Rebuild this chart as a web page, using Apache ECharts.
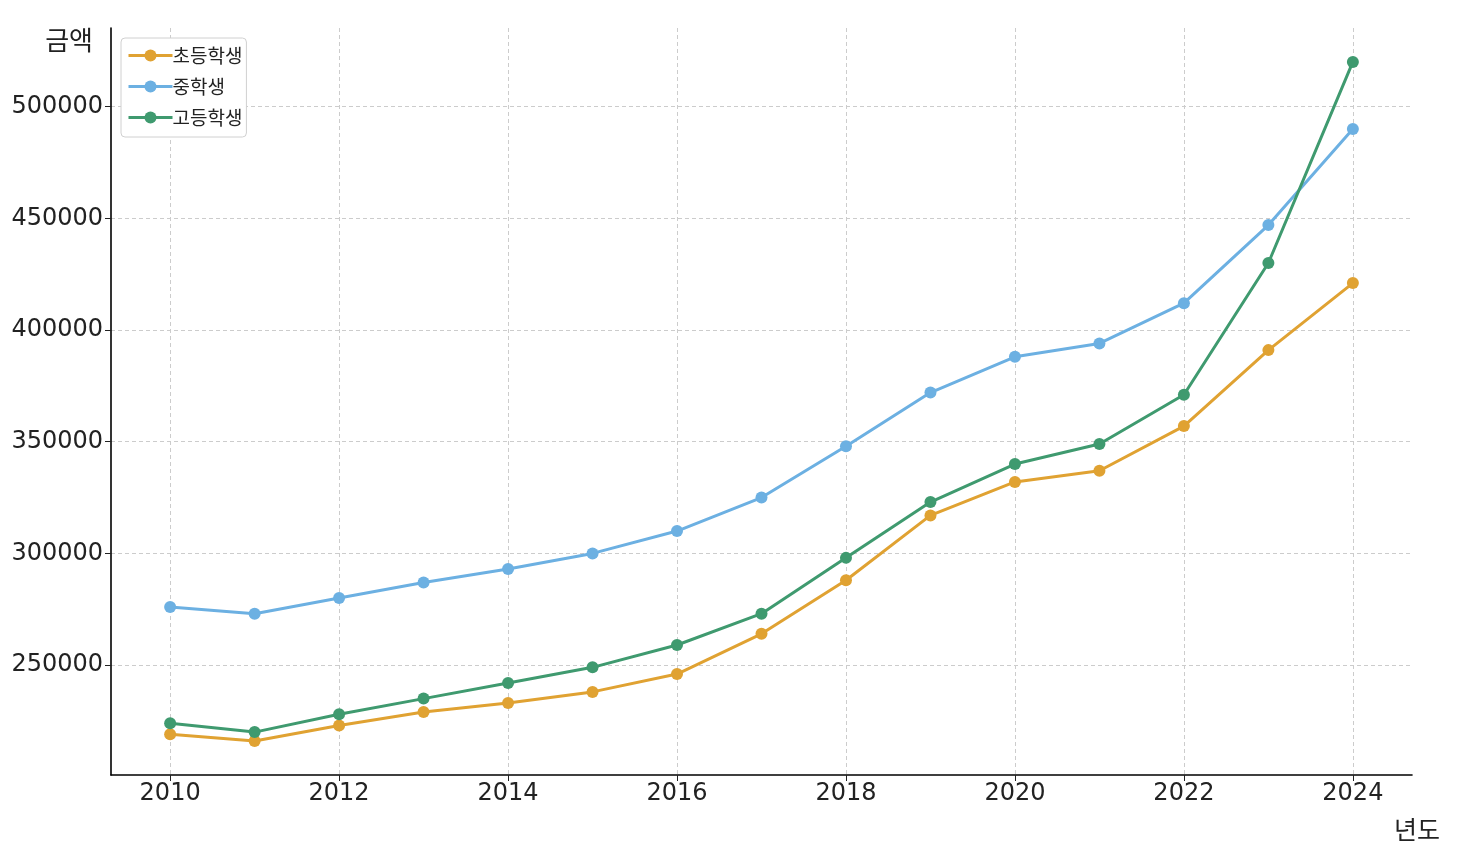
<!DOCTYPE html>
<html>
<head>
<meta charset="utf-8">
<script src="https://cdn.jsdelivr.net/npm/echarts@6/dist/echarts.min.js"></script>
<style>
html,body{margin:0;padding:0;background:#fff;}
#chart{width:1466px;height:862px;}
</style>
</head>
<body>
<div id="chart"></div>
<script>
const years = [2010,2011,2012,2013,2014,2015,2016,2017,2018,2019,2020,2021,2022,2023,2024];
const elementary = [219000,216000,223000,229000,233000,238000,246000,264000,288000,317000,332000,337000,357000,391000,421000];
const middle = [276000,273000,280000,287000,293000,300000,310000,325000,348000,372000,388000,394000,412000,447000,490000];
const high = [224000,220000,228000,235000,242000,249000,259000,273000,298000,323000,340000,349000,371000,430000,520000];
const seriesNames = ['초등학생','중학생','고등학생'];
const xTicks = [2010,2012,2014,2016,2018,2020,2022,2024];
const yTicks = [250000,300000,350000,400000,450000,500000];

const colors = ['#e0a232','#6cb0e2','#3f9a6f'];
const numFont = "'DejaVu Sans',sans-serif";
const krFont = "'Noto Sans CJK KR',sans-serif";
const chart = echarts.init(document.getElementById('chart'));

function mk(name, vals, color){
  return {
    name: name, type: 'line',
    data: years.map((y,i)=>[y, vals[i]]),
    symbol: 'circle', symbolSize: 12,
    lineStyle: {width: 3, color: color},
    itemStyle: {color: color},
    emphasis: {disabled: true},
    animation: false
  };
}

chart.setOption({
  animation: false,
  grid: {left: 111, right: 54, top: 28, bottom: 87, containLabel: false},
  legend: {
    orient: 'vertical', left: 121, top: 38,
    data: seriesNames,
    itemWidth: 44, itemHeight: 15, itemGap: 12,
    padding: [8, 4, 10, 6],
    backgroundColor: '#fff', borderColor: '#d0d0d0', borderWidth: 1, borderRadius: 4,
    lineStyle: {width: 3},
    textStyle: {fontSize: 19, color: '#222', fontFamily: krFont, padding: [0,0,0,-5]}
  },
  xAxis: {
    type: 'value', min: 2009.3, max: 2024.7,
    name: '년도', nameLocation: 'end', nameGap: 0,
    nameTextStyle: {fontSize: 25, color: '#222', fontFamily: krFont, align: 'right', verticalAlign: 'top', padding: [42, -28, 0, 0]},
    axisLine: {show: true, onZero: false, lineStyle: {color: '#000', width: 1.6}},
    axisTick: {show: true, length: 6, lineStyle: {color: '#222', width: 1}, customValues: xTicks},
    axisLabel: {fontSize: 24, color: '#222', margin: 7, fontFamily: numFont, customValues: xTicks, formatter: v => String(v)},
    splitLine: {show: true, lineStyle: {color: '#cccccc', type: [4,3], width: 1}}
  },
  yAxis: {
    type: 'value', min: 200800, max: 535200,
    name: '금액', nameLocation: 'end', nameGap: 0,
    nameTextStyle: {fontSize: 26, color: '#222', fontFamily: krFont, align: 'right', verticalAlign: 'top', padding: [-1, 18, 0, 0]},
    axisLine: {show: true, onZero: false, lineStyle: {color: '#000', width: 1.6}},
    axisTick: {show: true, length: 6, lineStyle: {color: '#222', width: 1}, customValues: yTicks},
    axisLabel: {fontSize: 24, color: '#222', margin: 8, fontFamily: numFont, customValues: yTicks, formatter: v => String(v)},
    splitLine: {show: true, lineStyle: {color: '#cccccc', type: [4,3], width: 1}}
  },
  series: [
    mk(seriesNames[0], elementary, colors[0]),
    mk(seriesNames[1], middle, colors[1]),
    mk(seriesNames[2], high, colors[2])
  ]
});
</script>
</body>
</html>
